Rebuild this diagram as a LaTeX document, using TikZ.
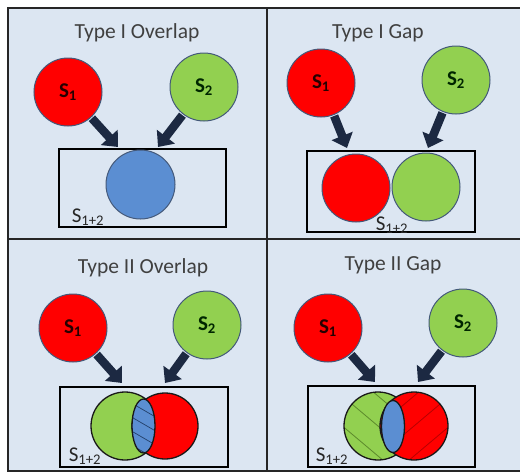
\documentclass[tikz,border=0pt]{standalone}
\usepackage{fontspec}
\setmainfont{Carlito}
\usetikzlibrary{arrows.meta}
\definecolor{panelbg}{HTML}{DCE6F2}
\definecolor{setred}{HTML}{FF0000}
\definecolor{setgreen}{HTML}{92D050}
\definecolor{setblue}{HTML}{5B8ED2}
\definecolor{rimgray}{HTML}{44597A}
\definecolor{arrowink}{HTML}{1C2942}
\definecolor{titleink}{HTML}{404040}
\definecolor{hatchgreen}{HTML}{5C8A2C}
\definecolor{hatchred}{HTML}{B80000}
\definecolor{hatchblue}{HTML}{23406A}
\tikzset{
  frameline/.style={line width=1.6pt, draw=black!85},
  bubble/.style={circle, minimum size=68pt, inner sep=0pt, draw=rimgray, line width=1pt,
    font=\fontsize{21}{21}\selectfont\bfseries},
  setbox/.style={draw=black, line width=1.6pt, inner sep=0pt},
  paneltitle/.style={text=titleink, font=\fontsize{21.5}{21.5}\selectfont},
  unionlabel/.style={text=black!85, font=\fontsize{21}{21}\selectfont, inner sep=0pt},
  bigarrow/.style={draw=arrowink, line width=8.5pt,
    -{Triangle[width=22pt,length=13pt]}, shorten <=1pt},
  ring/.style={draw=black!90, line width=1.3pt},
}
\begin{document}
\begin{tikzpicture}[x=1pt,y=-1pt]
\useasboundingbox (0,0) rectangle (520,475);
\fill[white] (0,0) rectangle (520,475);
\fill[panelbg] (8,8) rectangle (520,471);
% frame and panel dividers
\draw[frameline] (520,8) -- (8,8) -- (8,471) -- (520,471);
\draw[frameline] (267,8) -- (267,471);
\draw[frameline] (8,239) -- (520,239);

% ---------- Type I Overlap ----------
\node[paneltitle] (t1) at (137,33) {Type I Overlap};
\node[bubble, fill=setred, text=black!85!red] (a1) at (68,92) {S\textsubscript{1}};
\node[bubble, fill=setgreen, text=black!85!green] (b1) at (204,87) {S\textsubscript{2}};
\node[setbox, minimum width=167pt, minimum height=78pt] (r1) at (142.5,188) {};
\coordinate (ea1) at (118,147);
\coordinate (eb1) at (158,147);
\draw[bigarrow] (a1) -- (ea1);
\draw[bigarrow] (b1) -- (eb1);
\node[circle, minimum size=69pt, inner sep=0pt, fill=setblue, draw=rimgray, line width=1pt] (u1) at (140.5,184.5) {};
\node[unionlabel] (l1) at (88,217) {S\textsubscript{1+2}};

% ---------- Type I Gap ----------
\node[paneltitle] (t2) at (378,33) {Type I Gap};
\node[bubble, fill=setred, text=black!85!red] (a2) at (321,83) {S\textsubscript{1}};
\node[bubble, fill=setgreen, text=black!85!green] (b2) at (456,80) {S\textsubscript{2}};
\node[setbox, minimum width=168pt, minimum height=81pt] (r2) at (391,191.5) {};
\coordinate (ea2) at (347,148);
\coordinate (eb2) at (428,148);
\draw[bigarrow] (a2) -- (ea2);
\draw[bigarrow] (b2) -- (eb2);
\node[circle, minimum size=68pt, inner sep=0pt, fill=setred, draw=rimgray, line width=1pt] (p2) at (356,188) {};
\node[circle, minimum size=68pt, inner sep=0pt, fill=setgreen, draw=rimgray, line width=1pt] (q2) at (426,187) {};
\node[unionlabel] (l2) at (392,225) {S\textsubscript{1+2}};

% ---------- Type II Overlap ----------
\node[paneltitle] (t3) at (143,268) {Type II Overlap};
\node[bubble, fill=setred, text=black!85!red] (a3) at (73,328) {S\textsubscript{1}};
\node[bubble, fill=setgreen, text=black!85!green] (b3) at (207,325) {S\textsubscript{2}};
\node[setbox, minimum width=168pt, minimum height=80pt] (r3) at (144,427) {};
\coordinate (ea3) at (122,383);
\coordinate (eb3) at (165,383);
\draw[bigarrow] (a3) -- (ea3);
\draw[bigarrow] (b3) -- (eb3);
\fill[setgreen] (125,426) circle[radius=34];
\draw[ring] (125,426) circle[radius=34];
\fill[setred] (165,426) circle[radius=33];
\draw[ring] (165,426) circle[radius=33];
\fill[setblue] (143.5,426) ellipse[x radius=11.5, y radius=27];
\begin{scope}
  \clip (143.5,426) ellipse[x radius=11.5, y radius=27];
  \foreach \k in {-30,-16,...,30}
    \draw[hatchblue, line width=0.7pt] (128,{426+\k-9}) -- (159,{426+\k+9});
\end{scope}
\draw[ring] (143.5,426) ellipse[x radius=11.5, y radius=27];
\node[unionlabel] (l3) at (85,456) {S\textsubscript{1+2}};

% ---------- Type II Gap ----------
\node[paneltitle] (t4) at (393,265) {Type II Gap};
\node[bubble, fill=setred, text=black!85!red] (a4) at (328,328) {S\textsubscript{1}};
\node[bubble, fill=setgreen, text=black!85!green] (b4) at (463,323) {S\textsubscript{2}};
\node[setbox, minimum width=167pt, minimum height=81pt] (r4) at (391.5,426.5) {};
\coordinate (ea4) at (375,382);
\coordinate (eb4) at (418,382);
\draw[bigarrow] (a4) -- (ea4);
\draw[bigarrow] (b4) -- (eb4);
\fill[setgreen] (378,426) circle[radius=34];
\begin{scope}
  \clip (378,426) circle[radius=34];
  \foreach \k in {-60,-30,...,60}
    \draw[hatchgreen, line width=0.8pt] (340,{426+\k-32}) -- (416,{426+\k+32});
\end{scope}
\draw[ring] (378,426) circle[radius=34];
\fill[setred] (414,426) circle[radius=34];
\begin{scope}
  \clip (414,426) circle[radius=34];
  \foreach \k in {-60,-30,...,60}
    \draw[hatchred, line width=0.8pt] (376,{426+\k+32}) -- (452,{426+\k-32});
\end{scope}
\draw[ring] (414,426) circle[radius=34];
\fill[setblue] (393,426.5) ellipse[x radius=11.5, y radius=26];
\draw[ring] (393,426.5) ellipse[x radius=11.5, y radius=26];
\node[unionlabel] (l4) at (332,456) {S\textsubscript{1+2}};
\end{tikzpicture}
\end{document}
